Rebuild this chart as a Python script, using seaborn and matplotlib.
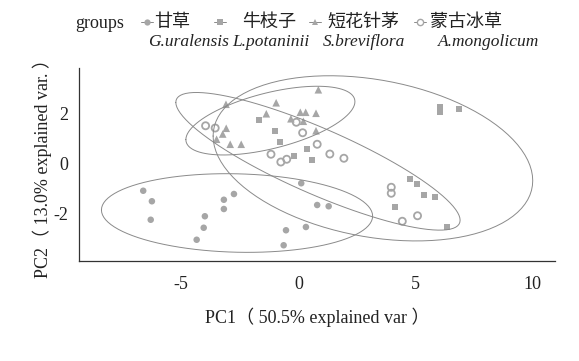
import matplotlib
matplotlib.use('Agg')

import matplotlib.pyplot as plt
from matplotlib.lines import Line2D
import numpy as np
import pandas as pd
import seaborn as sns

# PCA scores, one pair of arrays per group
gu_x = [-6.62, -6.25, -6.30, -3.99, -4.04, -4.34, -3.18, -2.75, -3.18, 0.12, 0.80, 1.29, -0.53, 0.32, -0.63]
gu_y = [-1.11, -1.53, -2.27, -2.13, -2.59, -3.07, -1.47, -1.24, -1.84, -0.81, -1.68, -1.73, -2.69, -2.56, -3.29]

lp_x = [-1.67, -1.00, -0.80, -0.18, 0.35, 0.59, 6.03, 6.03, 6.86, 4.75, 5.05, 5.35, 5.83, 4.12, 6.35]
lp_y = [1.71, 1.29, 0.84, 0.29, 0.56, 0.11, 2.23, 2.04, 2.15, -0.63, -0.83, -1.27, -1.36, -1.76, -2.57]

sb_x = [-3.09, -0.95, -1.37, -3.08, -3.23, -3.49, -2.91, -2.44, -0.32, 0.08, 0.31, 0.85, 0.75, 0.21, 0.75]
sb_y = [2.35, 2.41, 1.97, 1.39, 1.16, 0.95, 0.75, 0.75, 1.77, 2.03, 2.03, 2.93, 1.99, 1.67, 1.29]

am_x = [-3.96, -3.55, -0.09, 0.18, -1.17, -0.75, -0.50, 0.80, 1.34, 1.94, 3.96, 3.96, 5.08, 4.43]
am_y = [1.49, 1.40, 1.63, 1.21, 0.35, 0.04, 0.15, 0.75, 0.36, 0.19, -0.97, -1.21, -2.11, -2.33]

group_cn = ['甘草', '牛枝子', '短花针茅', '蒙古冰草']
group_la = ['G.uralensis', 'L.potaninii', 'S.breviflora', 'A.mongolicum']

frames = []
for name, xs, ys in zip(group_cn, [gu_x, lp_x, sb_x, am_x], [gu_y, lp_y, sb_y, am_y]):
    frames.append(pd.DataFrame({'PC1': xs, 'PC2': ys, 'groups': name}))
df = pd.concat(frames, ignore_index=True)

sns.set_style('white')
plt.rcParams['font.family'] = ['Liberation Serif', 'Noto Sans CJK SC']
plt.rcParams['axes.unicode_minus'] = False

pt_col = '#a6a6a6'
ell_col = '#8a8a8a'
txt_col = '#222222'
marker_kw = {
    '甘草': dict(marker='o', s=22, color=pt_col, edgecolor='none'),
    '牛枝子': dict(marker='s', s=20, color=pt_col, edgecolor='none'),
    '短花针茅': dict(marker='^', s=30, color=pt_col, edgecolor='none'),
    '蒙古冰草': dict(marker='o', s=26, facecolor='none', edgecolor=pt_col, linewidth=1.3),
}

fig = plt.figure(figsize=(5.79, 3.61), dpi=100)
ax = fig.add_axes([0.1364, 0.277, 0.822, 0.5346])

# ellipses (normal, prob 0.9) computed from each group's scores
ed = np.sqrt(-2 * np.log(1 - 0.9))
theta = np.linspace(-np.pi, np.pi, 101)
circle = np.column_stack([np.cos(theta), np.sin(theta)])
for name in group_cn:
    pts = df.loc[df['groups'] == name, ['PC1', 'PC2']].to_numpy()
    sigma = np.cov(pts.T)
    mu = pts.mean(axis=0)
    ell = ed * circle @ np.linalg.cholesky(sigma).T + mu
    ax.plot(ell[:, 0], ell[:, 1], color=ell_col, linewidth=0.7)

for name in group_cn:
    sub = df[df['groups'] == name]
    sns.scatterplot(data=sub, x='PC1', y='PC2', ax=ax, legend=False, **marker_kw[name])

ax.set_xlim(-9.36, 10.94)
ax.set_ylim(-3.92, 3.8)
ax.set_xticks([-5, 0, 5, 10])
ax.set_yticks([-2, 0, 2])
sns.despine(ax=ax)
for side in ['left', 'bottom']:
    ax.spines[side].set_color('#333333')
    ax.spines[side].set_linewidth(0.9)
ax.tick_params(axis='both', direction='out', length=3.5, width=0.8, color='#333333',
               labelsize=13, labelcolor=txt_col, pad=4)
ax.tick_params(axis='x', pad=7)
ax.set_xlabel('PC1（ 50.5% explained var ）', fontsize=13, color=txt_col, labelpad=11)
ax.set_ylabel('PC2（ 13.0% explained var. ）', fontsize=13, color=txt_col, labelpad=1)

# legend along the top, drawn by hand so each label can have two lines
fig.text(75 / 579, 1 - 23 / 361, 'groups', fontsize=13, color=txt_col, va='center', ha='left')
key_x = [147, 220, 315, 420]
cn_x = [154, 242, 327, 430]
la_x = [148, 232, 323, 438]
for i, name in enumerate(group_cn):
    kw = marker_kw[name]
    xk = key_x[i] / 579
    yk = 1 - 22 / 361
    fig.add_artist(Line2D([xk - 6 / 579, xk + 6 / 579], [yk, yk], transform=fig.transFigure,
                          color=ell_col, linewidth=0.7))
    hollow = kw.get('facecolor') == 'none'
    fig.add_artist(Line2D([xk], [yk], transform=fig.transFigure, marker=kw['marker'], markersize=4.5,
                          markerfacecolor='white' if hollow else pt_col, markeredgecolor=pt_col,
                          markeredgewidth=1.0 if hollow else 0, linestyle='none'))
    fig.text(cn_x[i] / 579, 1 - 22 / 361, name, fontsize=13, color=txt_col, va='center', ha='left')
    fig.text(la_x[i] / 579, 1 - 42 / 361, group_la[i], fontsize=12.5, color=txt_col,
             va='center', ha='left', style='italic')

fig.savefig('out.png', dpi=100)
